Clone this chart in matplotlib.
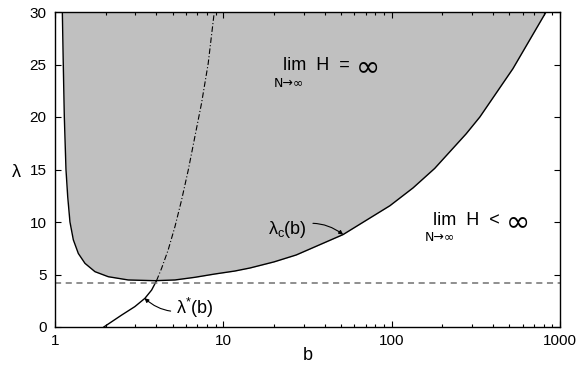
import matplotlib
matplotlib.use("Agg")
import matplotlib.pyplot as plt
from matplotlib.ticker import LogLocator, NullFormatter, FixedLocator

plt.rcParams['font.family'] = ['Liberation Sans', 'DejaVu Sans']
plt.rcParams['mathtext.fontset'] = 'custom'
plt.rcParams['mathtext.rm'] = 'Liberation Sans'
plt.rcParams['mathtext.it'] = 'Liberation Sans'

# critical curve lambda_c(b)
b_c = [1.105, 1.12, 1.136, 1.162, 1.19, 1.227, 1.285, 1.376, 1.507, 1.727, 2.072, 2.72,
       3.92, 5.16, 6.76, 8.92, 11.7, 14.4, 20.0, 27.1, 51.4, 97.6, 134, 180, 277, 334, 525, 819, 840]
lam_c = [30.2, 25.0, 20.0, 15.0, 12.4, 10.0, 8.3, 7.0, 6.06, 5.27, 4.79, 4.48,
         4.41, 4.48, 4.73, 5.05, 5.33, 5.62, 6.2, 6.86, 8.8, 11.55, 13.25, 15.1, 18.4, 20.0, 24.6, 29.9, 30.3]

# lambda*(b): solid part and dash-dot part
b_star_solid = [1.95, 2.49, 2.98, 3.42, 3.75, 4.01]
lam_star_solid = [0.0, 1.14, 1.94, 2.73, 3.52, 4.41]
b_star_dd = [4.01, 4.3, 4.7, 5.16, 5.65, 6.19, 6.77, 7.42, 8.13, 8.82]
lam_star_dd = [4.41, 5.6, 7.33, 9.56, 12.1, 14.95, 18.1, 21.3, 25.1, 29.9]

lam_hline = 4.2

x_ticks = [1, 10, 100, 1000]
x_ticklabels = ['1', '10', '100', '1000']
y_ticks = [0, 5, 10, 15, 20, 25, 30]

fig = plt.figure(figsize=(5.84, 3.71), dpi=100)
ax = fig.add_axes([55/584, 44/371, 505/584, 315/371])

ax.fill_between(b_c, lam_c, 31, color='#c0c0c0', linewidth=0)
ax.plot(b_c, lam_c, color='black', lw=1.0)
ax.plot(b_star_solid, lam_star_solid, color='black', lw=1.0)
ax.plot(b_star_dd, lam_star_dd, color='black', lw=0.8, linestyle=(0, (5, 2, 1, 2)))
ax.axhline(lam_hline, color='#707070', lw=1.1, linestyle=(0, (4, 3)))

ax.set_xscale('log')
ax.set_xlim(1, 1000)
ax.set_ylim(0, 30)
ax.xaxis.set_major_locator(FixedLocator(x_ticks))
ax.set_xticklabels(x_ticklabels)
ax.xaxis.set_minor_locator(LogLocator(base=10, subs=range(2, 10)))
ax.xaxis.set_minor_formatter(NullFormatter())
ax.set_yticks(y_ticks)
ax.tick_params(which='both', direction='in', top=True, right=True, labelsize=11)
ax.tick_params(which='major', length=4.5, width=0.8)
ax.tick_params(which='minor', length=2.5, width=0.8)
ax.tick_params(axis='x', pad=5)
ax.tick_params(axis='y', pad=6)
for s in ax.spines.values():
    s.set_linewidth(1.0)

ax.set_xlabel('b', fontsize=13, labelpad=-1)
ax.text(-0.077, 0.49, 'λ', transform=ax.transAxes, fontsize=13, ha='center', va='center')

# annotations
ax.annotate(r'$\mathregular{λ_c(b)}$', xy=(51.5, 8.8), xytext=(24.2, 9.33),
            fontsize=13, ha='center', va='center',
            arrowprops=dict(arrowstyle='-|>', color='black', lw=0.8,
                            mutation_scale=6, shrinkA=2, shrinkB=0,
                            connectionstyle='arc3,rad=-0.3'))
ax.annotate(r'$\mathregular{λ^{*}(b)}$', xy=(3.40, 2.75), xytext=(6.78, 1.8),
            fontsize=13, ha='center', va='center',
            arrowprops=dict(arrowstyle='-|>', color='black', lw=0.8,
                            mutation_scale=6, shrinkA=2, shrinkB=0,
                            connectionstyle='arc3,rad=-0.3'))

ax.text(22.6, 24.9, 'lim  H  =', fontsize=13, ha='left', va='center')
ax.text(61.5, 24.75, '∞', fontsize=21, family='DejaVu Sans', ha='left', va='center')
ax.text(19.9, 23.2, 'N→∞', fontsize=9, family='DejaVu Sans', ha='left', va='center')
ax.text(175, 10.1, 'lim  H  <', fontsize=13, ha='left', va='center')
ax.text(478, 9.95, '∞', fontsize=21, family='DejaVu Sans', ha='left', va='center')
ax.text(157, 8.57, 'N→∞', fontsize=9, family='DejaVu Sans', ha='left', va='center')

fig.savefig('out.png', dpi=100)
